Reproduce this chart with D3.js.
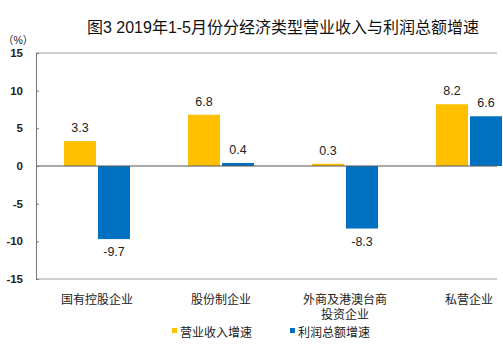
<!DOCTYPE html>
<html>
<head>
<meta charset="utf-8">
<script src="https://cdn.jsdelivr.net/npm/d3@7"></script>
<style>
  body { margin: 0; background: #fff; }
  text { font-family: "Liberation Sans", Arial, "Noto Sans CJK SC", sans-serif; }
</style>
</head>
<body>
<svg id="chart" width="503" height="351"></svg>
<script>
const categories = [['国有控股企业'], ['股份制企业'], ['外商及港澳台商', '投资企业'], ['私营企业']];
const revenue = [3.3, 6.8, 0.3, 8.2];
const profit = [-9.7, 0.4, -8.3, 6.6];
const yTicks = [15, 10, 5, 0, -5, -10, -15];
const seriesNames = ['营业收入增速', '利润总额增速'];
const colors = ['#FFC000', '#0070C0'];

const svg = d3.select('#chart');
const plotL = 36, plotR = 497, plotT = 53, plotB = 279;

const x = d3.scaleBand().domain(d3.range(categories.length)).range([35, 35 + 4 * 124]);
const y = d3.scaleLinear().domain([-15, 15]).range([plotB, plotT]);
const barW = 32;

// frame
svg.append('line').attr('x1', plotL).attr('x2', plotR).attr('y1', plotT).attr('y2', plotT)
  .attr('stroke', '#a0a0a0');
svg.append('line').attr('x1', plotL).attr('x2', plotR).attr('y1', plotB).attr('y2', plotB)
  .attr('stroke', '#a0a0a0');

// bars
const series = [revenue, profit];
series.forEach((vals, s) => {
  svg.selectAll('.bar' + s).data(vals).join('rect')
    .attr('class', 'bar' + s)
    .attr('x', (d, i) => x(i) + x.bandwidth() / 2 + (s === 0 ? -barW - 1 : 1))
    .attr('width', barW)
    .attr('y', d => y(Math.max(0, d)))
    .attr('height', d => Math.abs(y(d) - y(0)))
    .attr('fill', colors[s]);
  svg.selectAll('.lab' + s).data(vals).join('text')
    .attr('class', 'lab' + s)
    .attr('x', (d, i) => x(i) + x.bandwidth() / 2 + (s === 0 ? -barW / 2 - 1 : barW / 2 + 1))
    .attr('y', d => d >= 0 ? y(d) - 9 : y(d) + 17)
    .attr('text-anchor', 'middle')
    .attr('font-size', 12.5)
    .attr('fill', '#222')
    .text(d => d.toFixed(1));
});

// zero line
svg.append('line').attr('x1', plotL).attr('x2', plotR).attr('y1', y(0)).attr('y2', y(0))
  .attr('stroke', '#555');

// y axis
const yAxis = svg.append('g').attr('transform', `translate(${plotL},0)`)
  .call(d3.axisRight(y).tickValues(yTicks).tickSize(3).tickFormat(''));
yAxis.select('.domain').attr('stroke', '#777');
yAxis.selectAll('.tick line').attr('stroke', '#777');
svg.selectAll('.ytl').data(yTicks).join('text')
  .attr('class', 'ytl')
  .attr('x', 23).attr('y', d => y(d) + 4)
  .attr('text-anchor', 'end')
  .attr('font-family', '"Liberation Serif", "Times New Roman", serif')
  .attr('font-size', 11.5)
  .attr('font-weight', 'bold')
  .attr('fill', '#222')
  .text(d => d);

svg.append('text').attr('x', 3).attr('y', 44)
  .attr('font-size', 10.5).attr('fill', '#222').text('（%）');

// category labels
categories.forEach((lines, i) => {
  lines.forEach((t, j) => {
    svg.append('text')
      .attr('x', x(i) + x.bandwidth() / 2)
      .attr('y', 304 + j * 15)
      .attr('text-anchor', 'middle')
      .attr('font-size', 12)
      .attr('fill', '#222')
      .text(t);
  });
});

// title
svg.append('text').attr('x', 283).attr('y', 33)
  .attr('text-anchor', 'middle').attr('font-size', 16).attr('fill', '#111')
  .text('图3 2019年1-5月份分经济类型营业收入与利润总额增速');

// legend
const legX = [172, 290];
seriesNames.forEach((n, i) => {
  svg.append('rect').attr('x', legX[i]).attr('y', 328).attr('width', 5).attr('height', 5)
    .attr('fill', colors[i]);
  svg.append('text').attr('x', legX[i] + 8).attr('y', 337)
    .attr('font-size', 12).attr('fill', '#222').text(n);
});
</script>
</body>
</html>
